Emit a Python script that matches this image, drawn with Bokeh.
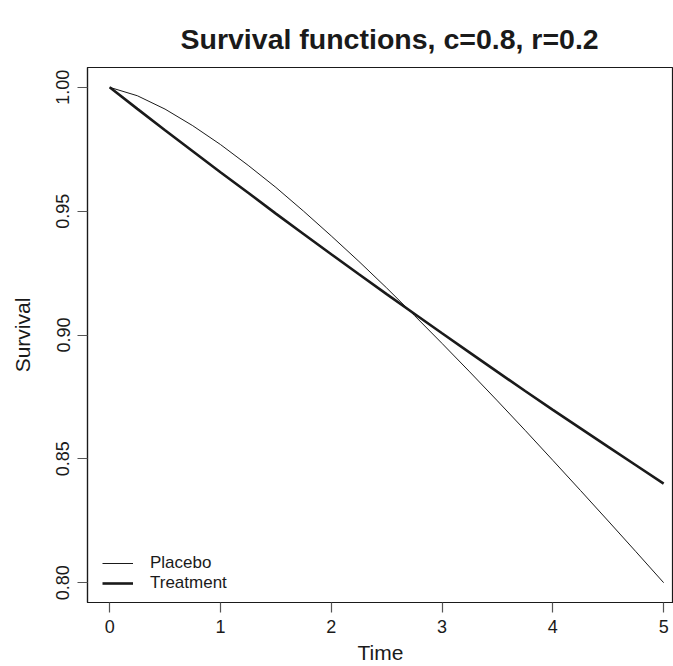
from bokeh.plotting import figure
from bokeh.models import (Range1d, LinearAxis, Legend, LegendItem,
                          FixedTicker, PrintfTickFormatter, Title)
from bokeh.embed import file_html
from bokeh.resources import INLINE

time = [0, 0.25, 0.5, 0.75, 1.0, 1.25, 1.5, 1.75, 2.0, 2.25, 2.5, 2.75,
        3.0, 3.25, 3.5, 3.75, 4.0, 4.25, 4.5, 4.75, 5.0]
placebo = [1.0000, 0.9966, 0.9912, 0.9845, 0.9769, 0.9685, 0.9596, 0.9500,
           0.9400, 0.9297, 0.9190, 0.9079, 0.8966, 0.8851, 0.8734, 0.8615,
           0.8494, 0.8372, 0.8249, 0.8125, 0.8000]
treatment = [1.0000, 0.9913, 0.9827, 0.9742, 0.9657, 0.9574, 0.9490, 0.9408,
             0.9326, 0.9245, 0.9165, 0.9086, 0.9007, 0.8929, 0.8851, 0.8774,
             0.8698, 0.8623, 0.8548, 0.8474, 0.8400]
x_ticks = [0, 1, 2, 3, 4, 5]
y_ticks = [0.80, 0.85, 0.90, 0.95, 1.00]
title_text = "Survival functions, c=0.8, r=0.2"

FONT = "Liberation Sans"
INK = "#1a1a1a"

p = figure(width=673, height=666, output_backend="svg", toolbar_location=None,
           x_range=Range1d(-0.2, 5.089), y_range=Range1d(0.792, 1.008),
           x_axis_location=None, y_axis_location=None,
           min_border_left=87, min_border_right=0, min_border_top=67,
           min_border_bottom=64)
p.outline_line_color = INK
p.outline_line_width = 1.2
p.xgrid.visible = False
p.ygrid.visible = False
p.background_fill_color = "white"
p.border_fill_color = "white"

def style_axis(ax):
    ax.axis_line_color = INK
    ax.axis_line_width = 1.2
    ax.major_tick_line_color = "#555555"
    ax.major_tick_line_width = 1.2
    ax.major_tick_in = 0
    ax.major_tick_out = 10
    ax.minor_tick_line_color = None
    ax.major_label_text_font = FONT
    ax.major_label_text_font_size = "18px"
    ax.major_label_text_color = INK
    ax.axis_label_text_font = FONT
    ax.axis_label_text_font_size = "21px"
    ax.axis_label_text_font_style = "normal"
    ax.axis_label_text_color = INK

xa = LinearAxis(ticker=FixedTicker(ticks=x_ticks), axis_label="Time")
style_axis(xa)
xa.major_label_standoff = 7
xa.axis_label_standoff = 5
p.add_layout(xa, "below")

ya = LinearAxis(ticker=FixedTicker(ticks=y_ticks), axis_label="Survival",
                formatter=PrintfTickFormatter(format="%.2f"))
style_axis(ya)
ya.major_label_orientation = "vertical"
ya.major_label_standoff = 8
ya.axis_label_standoff = 20
p.add_layout(ya, "left")

p.title = Title(text=title_text, align="left", offset=93, standoff=25,
                text_font=FONT, text_font_size="28.5px",
                text_font_style="bold", text_color=INK)

r_p = p.line(time, placebo, line_color=INK, line_width=1)
r_t = p.line(time, treatment, line_color=INK, line_width=2.6)

legend = Legend(items=[LegendItem(label="Placebo", renderers=[r_p]),
                       LegendItem(label="Treatment", renderers=[r_t])],
                location=(15, 9), border_line_color=None,
                background_fill_alpha=0, padding=0, margin=0, spacing=0,
                glyph_width=31, glyph_height=20, label_height=20,
                label_standoff=17, label_text_font=FONT,
                label_text_font_size="17px", label_text_color=INK)
p.add_layout(legend)

open("out.html", "w").write(file_html(p, INLINE))
